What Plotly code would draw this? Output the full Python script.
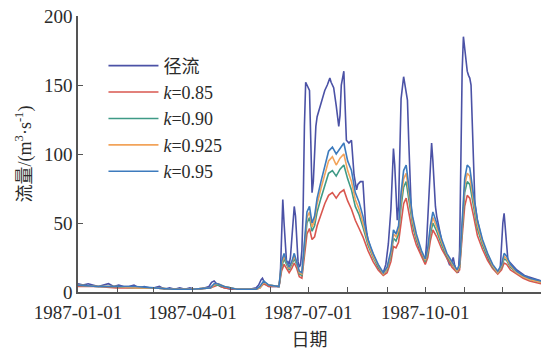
import pandas as pd
import plotly.graph_objects as go

# ---------------- data (day offsets from 1987-01-01, values in m3/s) ----------------
runoff_days = [0, 4, 8, 12, 16, 20, 24, 28, 32, 36, 40, 44, 48, 52, 56, 60, 64, 68, 72, 76,
               80, 84, 88, 92, 96, 100, 103, 105, 107, 109, 112, 116, 120, 125, 130, 135, 140,
               142, 144, 145, 147, 150, 154, 158,
               159, 160, 161, 162, 163, 164, 165, 166, 167, 168, 169, 170, 171, 172, 173, 174,
               175, 176, 177, 178, 179, 180, 181, 182, 183, 184, 185, 186, 187, 188, 190, 192,
               194, 196, 198, 199, 201, 203, 205, 206, 207, 209, 210, 211, 213, 215, 217, 219,
               220, 222, 224, 225, 226, 227, 228, 230, 232, 234, 236, 238, 240, 242, 244, 246,
               248, 249, 250, 251, 252, 253, 254, 256, 257, 258, 259, 260, 261, 262, 264, 266,
               268, 270, 272, 273, 274, 275, 276, 277, 278, 279, 280, 281, 282, 284, 286, 288,
               290, 292, 294, 295, 296, 297, 298, 299, 300, 301, 302, 303, 304, 305, 306, 307,
               308, 309, 310, 311, 312, 314, 316, 318, 320, 322, 324, 326, 328, 330, 332, 333,
               334, 335, 336, 337, 338, 340, 342, 345, 348, 351, 354, 357, 360, 364]
runoff_vals = [6, 5, 6, 5, 4, 5, 6, 4, 5, 4, 4, 5, 3, 4, 3, 3, 4, 2, 3, 2,
               3, 2, 3, 2, 2, 3, 4, 7, 8, 6, 4, 3, 2, 2, 2, 2, 3,
               5, 9, 10, 6, 4, 4, 4,
               10, 45, 67, 50, 30, 21, 22, 20, 25, 40, 55, 62, 55, 35, 22, 18,
               20, 30, 60, 120, 152, 150, 148, 146, 110, 72, 80, 105, 120, 127, 133, 140,
               146, 150, 155, 152, 148, 135, 120, 128, 150, 160, 140, 110, 108, 110, 85, 74,
               78, 80, 80, 62, 50, 43, 38, 32, 27, 22, 18, 15, 14, 20, 35, 60,
               104, 92, 70, 52, 62, 100, 140, 156, 150, 145, 139, 110, 76, 60, 45, 38,
               32, 27, 24, 23, 35, 54, 75, 100, 108, 95, 75, 62, 55, 45, 37, 30,
               25, 20, 22, 25, 20, 17, 16, 14, 30, 100, 160, 185, 175, 165, 160, 157,
               155, 150, 120, 79, 65, 52, 43, 36, 30, 25, 21, 18, 16, 14, 18, 35,
               50, 57, 45, 30, 23, 21, 19, 16, 14, 12, 11, 10, 9, 8]

k_days = [0, 15, 30, 45, 60, 75, 90, 104, 107, 110, 115, 125, 140, 143, 146, 150, 158,
          160, 162, 164, 166, 168, 170, 172, 174, 176, 178, 180, 182, 184, 186, 188, 191,
          194, 197, 200, 203, 206, 209, 212, 215, 218, 221, 224, 228, 232, 236, 240, 243,
          246, 248, 250, 252, 254, 256, 258, 260, 263, 266, 270, 273, 275, 277, 279, 282,
          286, 290, 294, 298, 300, 302, 304, 306, 308, 311, 314, 318, 322, 326, 330, 333,
          335, 337, 340, 345, 350, 355, 364]
k095_vals = [5, 4, 4, 4, 3, 2, 2, 3, 6, 6, 4, 2, 2, 4, 8, 5, 4,
             22, 28, 22, 18, 22, 28, 22, 15, 14, 35, 58, 62, 50, 55, 68, 80,
             92, 102, 105, 100, 104, 108, 95, 88, 72, 65, 55, 38, 28, 20, 14, 18,
             30, 45, 42, 48, 72, 88, 92, 78, 55, 42, 30, 24, 32, 48, 58, 50,
             38, 28, 22, 16, 20, 55, 82, 92, 90, 70, 52, 38, 28, 20, 15, 20,
             28, 26, 20, 15, 12, 10, 8]
k0925_vals = [5, 4, 4, 3, 3, 2, 2, 3, 5, 6, 4, 2, 2, 3, 7, 5, 4,
              20, 26, 21, 17, 21, 26, 21, 14, 13, 32, 54, 58, 47, 52, 64, 75,
              86, 95, 98, 92, 97, 100, 88, 80, 67, 60, 50, 36, 26, 19, 13, 17,
              28, 42, 40, 45, 67, 82, 86, 73, 52, 40, 29, 23, 30, 45, 54, 47,
              36, 27, 21, 15, 19, 51, 77, 86, 84, 66, 49, 36, 27, 19, 14, 19,
              26, 24, 19, 14, 11, 9, 7]
k090_vals = [5, 4, 4, 3, 3, 2, 2, 3, 5, 5, 4, 2, 2, 3, 7, 5, 4,
             18, 24, 20, 16, 20, 24, 20, 13, 12, 30, 50, 54, 44, 48, 58, 68,
             78, 86, 88, 84, 89, 92, 82, 74, 62, 56, 47, 34, 25, 18, 13, 16,
             26, 39, 37, 42, 62, 76, 80, 68, 49, 38, 28, 22, 28, 42, 50, 44,
             34, 26, 20, 15, 18, 47, 72, 80, 78, 62, 46, 34, 26, 18, 14, 18,
             24, 23, 18, 14, 11, 9, 7]
k085_vals = [4, 4, 3, 3, 3, 2, 2, 3, 4, 5, 3, 2, 2, 3, 6, 4, 4,
             15, 20, 17, 14, 17, 21, 17, 11, 10, 25, 42, 46, 38, 40, 48, 56,
             64, 70, 72, 68, 72, 74, 66, 60, 52, 46, 40, 30, 22, 16, 12, 14,
             22, 33, 32, 36, 52, 64, 68, 58, 43, 34, 26, 20, 25, 37, 45, 40,
             31, 24, 18, 14, 16, 40, 62, 70, 68, 55, 41, 31, 23, 17, 13, 16,
             21, 20, 16, 13, 10, 8, 6]

series_names = ["径流", "<i>k</i>=0.85", "<i>k</i>=0.90", "<i>k</i>=0.925", "<i>k</i>=0.95"]
series_colors = ["#4b52a6", "#d9574f", "#3f9a86", "#f2a35a", "#3d7bbd"]

x_tickvals = ["1987-01-01", "1987-04-01", "1987-07-01", "1987-10-01"]
x_ticktext = ["1987-01-01", "1987-04-01", "1987-07-01", "1987-10-01"]
y_tickvals = [0, 50, 100, 150, 200]

start = pd.Timestamp("1987-01-01")


def to_dates(days):
    return [start + pd.Timedelta(days=int(d)) for d in days]


series = [
    (runoff_days, runoff_vals),
    (k_days, k085_vals),
    (k_days, k090_vals),
    (k_days, k0925_vals),
    (k_days, k095_vals),
]

fig = go.Figure()
for (days, vals), name, color in zip(series, series_names, series_colors):
    fig.add_trace(go.Scatter(
        x=to_dates(days), y=vals, mode="lines", name=name,
        line=dict(color=color, width=1.6),
    ))

serif = "Liberation Serif, Noto Sans CJK SC, serif"
txt = "#2b2b2b"

fig.update_layout(
    width=545, height=354,
    margin=dict(l=78, r=4, t=16, b=62),
    paper_bgcolor="white", plot_bgcolor="white",
    font=dict(family=serif, size=19, color=txt),
    showlegend=True,
    legend=dict(
        x=0.055, y=0.886, xanchor="left", yanchor="top",
        bgcolor="rgba(0,0,0,0)", font=dict(family=serif, size=18, color=txt),
        tracegroupgap=0, itemwidth=50,
    ),
    xaxis=dict(
        type="date", automargin=False,
        range=["1987-01-01", "1987-12-31"],
        tickvals=x_tickvals, ticktext=x_ticktext,
        ticks="inside", ticklen=5, tickcolor="#555555",
        ticklabelstandoff=2,
        minor=dict(dtick="M1", tick0="1987-01-01", ticks="inside", ticklen=5, tickcolor="#555555", showgrid=False),
        showline=True, linecolor="#555555", linewidth=1.5,
        showgrid=False, zeroline=False,
        title=dict(text="日期", font=dict(family=serif, size=18, color=txt), standoff=12),
        tickfont=dict(family=serif, size=19, color=txt),
    ),
    yaxis=dict(
        range=[0, 200], automargin=False,
        tickvals=y_tickvals,
        ticks="inside", ticklen=5, tickcolor="#555555",
        showline=True, linecolor="#555555", linewidth=1.5,
        showgrid=False, zeroline=False,
        title=dict(text="流量/(m<sup>3</sup>·s<sup>-1</sup>)", font=dict(family=serif, size=18, color=txt), standoff=8),
        tickfont=dict(family=serif, size=19, color=txt),
    ),
)

# remove the browser's default 8px page margin so the figure fills the window exactly
fig.write_html(
    "out.html",
    config={"displayModeBar": False},
    post_script="document.body.style.margin='0';",
)
